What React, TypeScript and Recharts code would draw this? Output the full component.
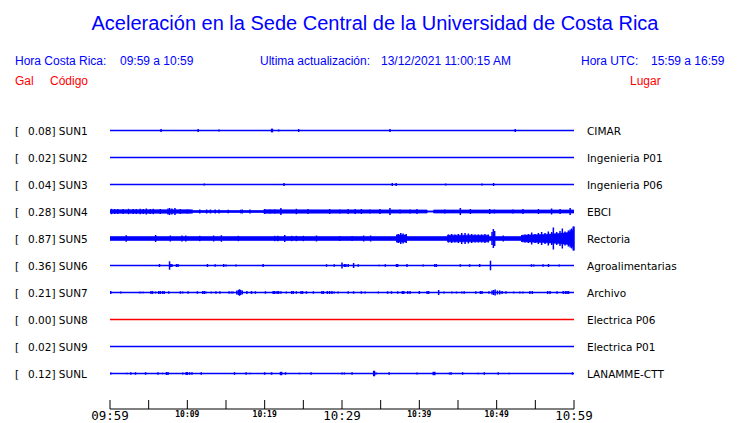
import {
  ComposedChart,
  Line,
  Area,
  Scatter,
  ErrorBar,
  XAxis,
  YAxis,
} from "recharts";

const BLUE = "#0000ff";
const RED = "#ff0000";
const ROW = 27; // units between traces (1 unit ~ 1 px)

// station info
const codes = ["SUN1", "SUN2", "SUN3", "SUN4", "SUN5", "SUN6", "SUN7", "SUN8", "SUN9", "SUNL"];
const gals = ["0.08", "0.02", "0.04", "0.28", "0.87", "0.36", "0.21", "0.00", "0.02", "0.12"];
const places = [
  "CIMAR",
  "Ingenieria P01",
  "Ingenieria P06",
  "EBCI",
  "Rectoria",
  "Agroalimentarias",
  "Archivo",
  "Electrica P06",
  "Electrica P01",
  "LANAMME-CTT",
];

// x ticks (minutes after 09:59)
const xTickMinutes = [0, 5, 10, 15, 20, 25, 30, 35, 40, 45, 50, 55, 60];
const xTickLabels = ["09:59", "", "10:09", "", "10:19", "", "10:29", "", "10:39", "", "10:49", "", "10:59"];
const majorLabels = ["09:59", "10:29", "10:59"];

// spikes: [minute, half amplitude]
const sun1Spikes = [[6.6, 1.5], [11.4, 1.5], [14.1, 1], [20.9, 1.8], [21.0, 1.8], [21.8, 1], [24.4, 1.5], [36.2, 1.5], [52.4, 1.5]];
const sun2Spikes: number[][] = [];
const sun3Spikes = [[12.2, 1], [22.5, 1.5], [36.5, 1.5], [37.0, 1.5], [43.4, 1], [48.1, 1], [49.6, 1.5]];
const sun4Spikes = [
  [0.2, 2.7], [0.6, 2.5], [1.0, 2.5], [1.7, 2.5], [2.4, 2.7], [3.0, 2.5], [3.4, 2.5], [3.9, 2.7], [4.3, 2.5],
  [4.7, 3], [5.2, 2.5], [5.6, 2.7], [6.5, 2.5], [7.5, 3], [7.7, 3.5], [8.0, 3], [8.4, 3.5], [9.1, 2.5],
  [10.0, 2], [10.6, 2], [11.6, 2], [12.5, 2], [13.0, 2], [13.6, 2], [14.1, 2], [15.3, 1.8], [16.9, 1.8],
  [17.1, 2], [18.1, 2], [20.0, 2.5], [20.7, 2], [21.3, 2], [22.1, 3.5], [24.1, 2.7], [25.6, 2.5], [28.4, 2.5],
  [29.7, 2], [30.8, 2.5], [31.7, 2.5], [32.5, 2.5], [33.6, 2], [34.9, 2.5], [36.2, 3.5], [37.5, 2], [38.8, 2],
  [39.7, 2.5], [43.3, 2], [45.3, 3.5], [46.6, 2.5], [49.1, 2.5], [49.7, 2], [51.3, 1.3], [52.1, 2], [53.4, 2.5],
  [55.4, 2.5], [57.1, 3], [58.2, 2.5], [59.5, 3.5],
];
const sun5Spikes = [
  [2.1, 3.3], [5.9, 3.5], [7.8, 3], [9.3, 3], [9.8, 3], [11.6, 2.7], [13.4, 3], [14.4, 3.3], [16.6, 2.7],
  [21.3, 2.7], [21.7, 2.7], [22.6, 3.5], [23.5, 2.7], [24.1, 2.7], [25.0, 2.7], [26.7, 3], [29.7, 2.5],
  [31.3, 2.5], [32.8, 3], [33.7, 3], [37.1, 4], [37.3, 4.5], [37.6, 5.5], [37.9, 5], [38.3, 4.5],
  [43.75, 4], [44.18, 4.5], [44.61, 4], [45.04, 4.5], [45.48, 5.5], [45.91, 5.5], [46.34, 5], [46.77, 4.5],
  [47.2, 4], [47.63, 4], [48.06, 4], [48.49, 4.5], [48.92, 4], [49.4, 6.5], [49.57, 9.5], [49.74, 7.5],
  [50.86, 3], [53.24, 3.5], [53.67, 4], [54.1, 4.5], [54.53, 6], [54.96, 4.5], [55.39, 5.5], [55.82, 6.5],
  [56.25, 5.5], [56.68, 7], [57.12, 6.5], [57.33, 11], [57.76, 6.5], [58.19, 7.5], [58.49, 10], [58.84, 7],
  [59.27, 8], [59.5, 9], [59.7, 10], [59.9, 12], [60.0, 12],
];
const sun6Spikes = [
  [6.4, 1.5], [7.7, 4.2], [7.85, 1.5], [8.0, 1.5], [8.6, 1.5], [8.8, 1.5], [12.6, 1.5], [13.6, 1.3], [14.7, 1.5],
  [15.0, 1], [16.3, 1], [19.8, 1.5], [28.0, 1.3], [29.0, 1.3], [30.0, 3], [30.3, 1.5], [30.5, 1.5], [30.8, 1.5],
  [31.5, 2.5], [32.1, 1.3], [34.8, 0.8], [35.6, 1.3], [37.05, 1.5], [37.2, 1.5], [38.4, 1.5], [40.5, 1],
  [42.0, 1.5], [42.2, 1.5], [45.3, 1.3], [46.5, 1.3], [47.8, 1.5], [49.2, 4.8], [54.5, 1.3], [54.8, 1],
  [56.0, 1.3], [56.7, 1.5], [58.1, 1],
];
const sun7Spikes = [
  [0.1, 1.5], [1.4, 1], [3.8, 0.8], [4.0, 0.8], [4.3, 0.8], [5.3, 1.5], [5.5, 1.5], [5.9, 1], [6.3, 1.5],
  [6.5, 1.5], [6.8, 1.5], [7.0, 1.5], [7.6, 1.3], [9.1, 1.3], [9.4, 1], [10.1, 1.3], [11.3, 1.3], [12.0, 1.5],
  [12.2, 1.5], [12.4, 1], [13.1, 1], [13.7, 1.3], [14.2, 1.3], [15.4, 1.3], [15.7, 1], [15.9, 1], [16.4, 2],
  [16.6, 2.5], [16.75, 3.3], [16.9, 2.5], [17.1, 2], [17.7, 1.5], [18.3, 1.5], [18.8, 1.3], [20.1, 1.3],
  [21.1, 1.5], [21.3, 1.5], [21.6, 1.5], [21.8, 1.5], [22.1, 1.3], [22.8, 1], [23.5, 1.5], [23.7, 1.5],
  [24.1, 1.3], [24.7, 1.5], [24.9, 1.5], [25.4, 1.3], [26.3, 1.3], [27.4, 1.5], [27.6, 1.5], [28.1, 1.5],
  [28.4, 1.5], [28.7, 1.5], [29.0, 1], [29.5, 1], [30.8, 1.3], [31.5, 1.3], [32.5, 1.3], [33.0, 1], [34.7, 1],
  [35.9, 1.3], [36.4, 1.3], [37.2, 1.3], [37.8, 1.5], [38.0, 1.5], [38.5, 1.5], [38.8, 1.5], [40.0, 1.5],
  [41.0, 1.5], [41.2, 1.5], [42.5, 2.5], [43.2, 1], [44.2, 1], [44.8, 1], [45.5, 1], [45.8, 1.3], [47.3, 1.3],
  [47.9, 1.5], [48.1, 1.5], [49.0, 1.3], [49.4, 2], [49.6, 2.5], [49.8, 3], [50.1, 2], [50.4, 2], [50.7, 1.5],
  [51.2, 1.3], [52.2, 1], [53.0, 1], [53.4, 1], [54.3, 1.5], [54.6, 1.5], [56.6, 1.5], [56.9, 1.5], [57.8, 1.3],
  [58.6, 1.5], [58.9, 1.5], [59.1, 1.5], [59.3, 1.5],
];
const sun8Spikes: number[][] = [];
const sun9Spikes: number[][] = [];
const sunlSpikes = [
  [0.1, 1], [2.2, 0.8], [2.7, 1.3], [3.3, 1.3], [4.6, 1.3], [6.2, 1.3], [6.8, 0.8], [7.3, 1.5], [7.5, 1.5],
  [9.4, 1], [9.85, 1.5], [10.0, 1.5], [10.3, 1.3], [10.6, 1.3], [11.8, 1.3], [16.1, 1.3], [17.6, 1.3],
  [18.1, 0.8], [20.0, 1.3], [20.9, 1.3], [22.05, 1.7], [22.2, 1.7], [22.7, 1.3], [24.5, 0.8], [26.0, 1.3],
  [30.0, 1], [30.3, 1], [31.3, 1.3], [34.1, 2.7], [34.2, 2.7], [34.4, 1], [36.1, 1.3], [39.7, 1], [41.8, 1.7],
  [42.0, 1.7], [43.9, 1], [44.1, 1.3], [45.6, 1.3], [47.6, 0.8], [48.4, 1.3], [50.2, 1.3], [51.6, 0.8],
  [59.8, 1.3],
];

// noise envelope breakpoints: [minute, half width]
const sun4Band = [[0, 1.8], [10.5, 1.8], [10.6, 1.0], [19.8, 1.0], [19.9, 1.8], [41.0, 1.6], [41.05, 0.4], [41.8, 0.4], [41.85, 1.6], [60, 1.6]];
const sun5Band = [
  [0, 2], [37.0, 2], [37.1, 3.5], [38.3, 3.5], [38.4, 2], [43.5, 2], [43.7, 3.3], [48.9, 3.3], [49.1, 2],
  [53.1, 2], [53.3, 3.3], [56, 4], [58, 5], [59.3, 6], [60, 9],
];

const spikeSets = [sun1Spikes, sun2Spikes, sun3Spikes, sun4Spikes, sun5Spikes, sun6Spikes, sun7Spikes, sun8Spikes, sun9Spikes, sunlSpikes];
const bandSets: (number[][] | null)[] = [null, null, null, sun4Band, sun5Band, null, null, null, null, null];

const stations = codes.map((code, i) => {
  const y = i * ROW;
  return {
    code,
    gal: gals[i],
    place: places[i],
    y,
    color: code === "SUN8" ? RED : BLUE,
    base: [{ t: 0, y }, { t: 60, y }],
    spikes: spikeSets[i].map(([t, a]) => ({ t, y, err: a })),
    band: bandSets[i] ? bandSets[i]!.map(([t, h]) => ({ t, band: [y - h, y + h] })) : null,
  };
});

const rowTicks = stations.map((s) => s.y);
const yDomain = [-ROW - 0.5, 278.5];

const XTick = ({ x, y, payload }: any) => {
  const i = xTickMinutes.indexOf(payload.value);
  const label = xTickLabels[i] || "";
  const major = majorLabels.includes(label);
  return (
    <g>
      <line x1={x} x2={x} y1={y - 9} y2={y} stroke="#000" strokeWidth={1} />
      {label && (
        <text
          x={x}
          y={major ? y + 11 : y + 8}
          textAnchor="middle"
          fontFamily="DejaVu Sans Mono"
          fontSize={major ? 12.5 : 8}
          fontWeight={major ? "normal" : "bold"}
          fill="#000"
        >
          {label}
        </text>
      )}
    </g>
  );
};

const LeftTick = ({ y, payload }: any) => {
  const s = stations.find((st) => st.y === payload.value);
  if (!s) return null;
  return (
    <g fontFamily="DejaVu Sans" fontSize={10.5} fill="#000">
      <text x={15} y={y + 4}>[</text>
      <text x={28} y={y + 4}>{`${s.gal}] ${s.code}`}</text>
    </g>
  );
};

const RightTick = ({ x, y, payload }: any) => {
  const s = stations.find((st) => st.y === payload.value);
  if (!s) return null;
  return (
    <text x={x + 13} y={y + 4} fontFamily="DejaVu Sans" fontSize={10.5} fill="#000">
      {s.place}
    </text>
  );
};

const noShape = () => <g />;

export default function App() {
  return (
    <div style={{ position: "absolute", left: 0, top: 0, width: 740, height: 423, background: "#fff" }}>
      <ComposedChart width={740} height={423} margin={{ top: 103, right: 0, bottom: 0, left: 0 }}>
        <XAxis
          xAxisId="t"
          dataKey="t"
          type="number"
          domain={[0, 60]}
          allowDataOverflow
          ticks={xTickMinutes}
          interval={0}
          height={14}
          tickSize={0}
          tickMargin={0}
          tickLine={false}
          tick={<XTick />}
          axisLine={{ stroke: "#000" }}
        />
        <YAxis
          yAxisId="left"
          dataKey="y"
          type="number"
          reversed
          domain={yDomain}
          allowDataOverflow
          ticks={rowTicks}
          interval={0}
          width={110}
          axisLine={false}
          tickLine={false}
          tick={<LeftTick />}
        />
        <YAxis
          yAxisId="right"
          orientation="right"
          type="number"
          reversed
          domain={yDomain}
          allowDataOverflow
          ticks={rowTicks}
          interval={0}
          width={166}
          axisLine={false}
          tickLine={false}
          tickSize={0}
          tickMargin={0}
          tick={<RightTick />}
        />
        {stations.map((s) =>
          s.band ? (
            <Area
              key={`band-${s.code}`}
              xAxisId="t"
              yAxisId="left"
              data={s.band}
              dataKey="band"
              type="linear"
              stroke={s.color}
              strokeWidth={0.6}
              fill={s.color}
              fillOpacity={1}
              isAnimationActive={false}
            />
          ) : null
        )}
        {stations.map((s) => (
          <Line
            key={`base-${s.code}`}
            xAxisId="t"
            yAxisId="left"
            data={s.base}
            dataKey="y"
            stroke={s.color}
            strokeWidth={1.4}
            dot={false}
            activeDot={false}
            isAnimationActive={false}
          />
        ))}
        {stations.map((s) =>
          s.spikes.length ? (
            <Scatter
              key={`spk-${s.code}`}
              xAxisId="t"
              yAxisId="left"
              data={s.spikes}
              dataKey="y"
              shape={noShape}
              isAnimationActive={false}
            >
              <ErrorBar dataKey="err" direction="y" width={0} stroke={s.color} strokeWidth={1.5} />
            </Scatter>
          ) : null
        )}
      </ComposedChart>
      <svg
        width={740}
        height={100}
        style={{ position: "absolute", left: 0, top: 0, pointerEvents: "none" }}
        fontFamily="Liberation Sans, Arial, sans-serif"
      >
        <text x={375} y={30} textAnchor="middle" fontSize={20} fill={BLUE}>
          Aceleración en la Sede Central de la Universidad de Costa Rica
        </text>
        <g fontSize={12} fill={BLUE}>
          <text x={15} y={65}>Hora Costa Rica:</text>
          <text x={120} y={65}>09:59 a 10:59</text>
          <text x={260} y={65}>Ultima actualización:</text>
          <text x={381} y={65}>13/12/2021 11:00:15 AM</text>
          <text x={581} y={65}>Hora UTC:</text>
          <text x={651} y={65}>15:59 a 16:59</text>
        </g>
        <g fontSize={12} fill={RED}>
          <text x={15} y={85}>Gal</text>
          <text x={50} y={85}>Código</text>
          <text x={630} y={85}>Lugar</text>
        </g>
      </svg>
    </div>
  );
}
